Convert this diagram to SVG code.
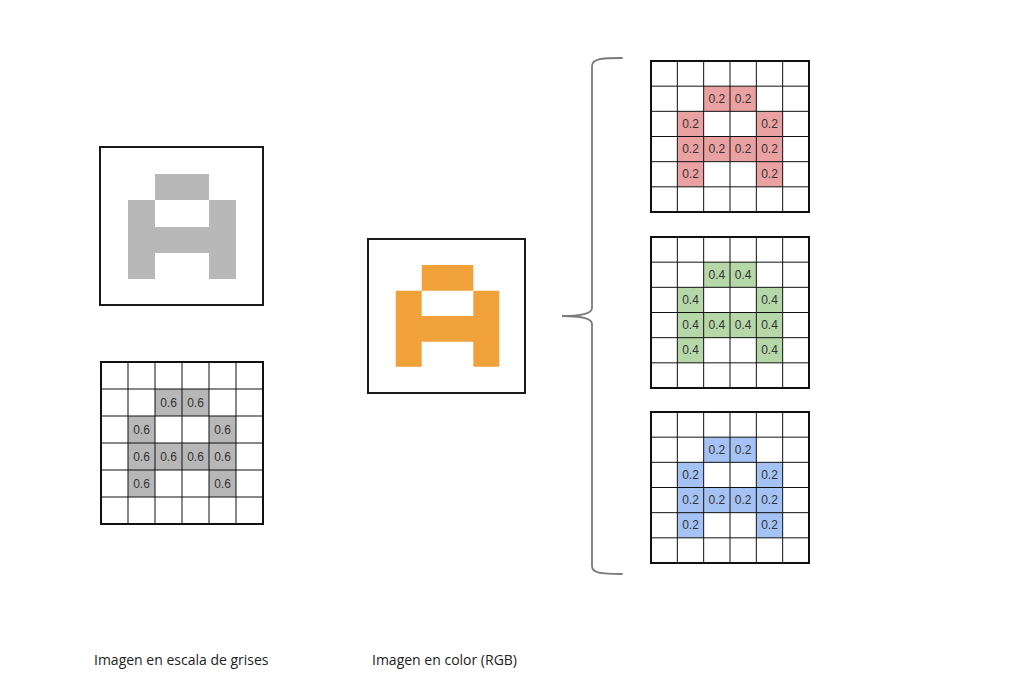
<svg xmlns="http://www.w3.org/2000/svg" xmlns:xlink="http://www.w3.org/1999/xlink" width="1024" height="682" viewBox="0 0 1024 682">
  <style>
    .frame { fill: #ffffff; stroke: #1a1a1a; stroke-width: 2; }
    .gl { stroke: #111; stroke-width: 1; fill: none; }
    .gb { stroke: #111; stroke-width: 2; fill: none; }
    .num { font-family: "Liberation Sans", Arial, sans-serif; font-size: 12px; fill: #333; text-anchor: middle; }
    .lbl { font-family: "Open Sans", "Liberation Sans", sans-serif; font-size: 14px; fill: #222; }
    .brace { fill: none; stroke: #7a7a7a; stroke-width: 1.8; stroke-linecap: round; }
  </style>
  <defs>
    <g id="cgrid-lines">
      <path class="gl" d="M26.33,0V151M52.67,0V151M79,0V151M105.33,0V151M131.67,0V151M0,25.17H158M0,50.33H158M0,75.5H158M0,100.67H158M0,125.83H158"/>
      <rect class="gb" x="0" y="0" width="158" height="151"/>
    </g>
    <g id="cgrid-fill">
      <rect x="52.67" y="25.17" width="52.67" height="25.17"/>
      <rect x="26.33" y="50.33" width="26.33" height="75.5"/>
      <rect x="105.33" y="50.33" width="26.33" height="75.5"/>
      <rect x="52.67" y="75.5" width="52.67" height="25.17"/>
    </g>
  </defs>
  <rect width="1024" height="682" fill="#ffffff"/>

  <g id="gray-image">
    <rect class="frame" x="100" y="147" width="163" height="158"/>
    <path fill="#b8b8b8" d="M155,174H209V200H236V279H209V253H155V279H128V200H155Z M155,200V227H209V200Z" fill-rule="evenodd"/>
  </g>

  <g id="gray-grid" transform="translate(101,362)">
    <g fill="#b7b7b7">
      <rect x="54" y="27" width="54" height="27"/>
      <rect x="27" y="54" width="27" height="81"/>
      <rect x="108" y="54" width="27" height="81"/>
      <rect x="54" y="81" width="54" height="27"/>
    </g>
    <path class="gl" d="M27,0V162M54,0V162M81,0V162M108,0V162M135,0V162M0,27H162M0,54H162M0,81H162M0,108H162M0,135H162"/>
    <rect class="gb" x="0" y="0" width="162" height="162"/>
    <text class="num" x="67.5" y="45">0.6</text>
    <text class="num" x="94.5" y="45">0.6</text>
    <text class="num" x="40.5" y="72">0.6</text>
    <text class="num" x="121.5" y="72">0.6</text>
    <text class="num" x="40.5" y="99">0.6</text>
    <text class="num" x="67.5" y="99">0.6</text>
    <text class="num" x="94.5" y="99">0.6</text>
    <text class="num" x="121.5" y="99">0.6</text>
    <text class="num" x="40.5" y="126">0.6</text>
    <text class="num" x="121.5" y="126">0.6</text>
  </g>

  <g id="color-image">
    <rect class="frame" x="368" y="239" width="157" height="154"/>
    <path fill="#f1a13a" fill-rule="evenodd" d="M421.7,265H473.3V290.7H499.3V366.7H473.3V341.7H421.7V366.7H395.7V290.7H421.7Z M421.7,290.7V316H473.3V290.7Z"/>
  </g>

  <g id="connectors">
    <path class="brace" d="M622,58 C600,58 592,59 592,66 L592,308 C592,313 584,316 562,316 C584,316 592,319 592,324 L592,566 C592,573 600,574 622,574"/>
  </g>

  <g id="red-grid" transform="translate(651,61)">
    <use xlink:href="#cgrid-fill" fill="#eaa1a1"/>
    <use xlink:href="#cgrid-lines"/>
    <text class="num" x="65.83" y="41.6">0.2</text>
    <text class="num" x="92.17" y="41.6">0.2</text>
    <text class="num" x="39.5" y="66.8">0.2</text>
    <text class="num" x="118.5" y="66.8">0.2</text>
    <text class="num" x="39.5" y="92">0.2</text>
    <text class="num" x="65.83" y="92">0.2</text>
    <text class="num" x="92.17" y="92">0.2</text>
    <text class="num" x="118.5" y="92">0.2</text>
    <text class="num" x="39.5" y="117.2">0.2</text>
    <text class="num" x="118.5" y="117.2">0.2</text>
  </g>

  <g id="green-grid" transform="translate(651,237)">
    <use xlink:href="#cgrid-fill" fill="#b6d7a8"/>
    <use xlink:href="#cgrid-lines"/>
    <text class="num" x="65.83" y="41.6">0.4</text>
    <text class="num" x="92.17" y="41.6">0.4</text>
    <text class="num" x="39.5" y="66.8">0.4</text>
    <text class="num" x="118.5" y="66.8">0.4</text>
    <text class="num" x="39.5" y="92">0.4</text>
    <text class="num" x="65.83" y="92">0.4</text>
    <text class="num" x="92.17" y="92">0.4</text>
    <text class="num" x="118.5" y="92">0.4</text>
    <text class="num" x="39.5" y="117.2">0.4</text>
    <text class="num" x="118.5" y="117.2">0.4</text>
  </g>

  <g id="blue-grid" transform="translate(651,412)">
    <use xlink:href="#cgrid-fill" fill="#a4c2f4"/>
    <use xlink:href="#cgrid-lines"/>
    <text class="num" x="65.83" y="41.6">0.2</text>
    <text class="num" x="92.17" y="41.6">0.2</text>
    <text class="num" x="39.5" y="66.8">0.2</text>
    <text class="num" x="118.5" y="66.8">0.2</text>
    <text class="num" x="39.5" y="92">0.2</text>
    <text class="num" x="65.83" y="92">0.2</text>
    <text class="num" x="92.17" y="92">0.2</text>
    <text class="num" x="118.5" y="92">0.2</text>
    <text class="num" x="39.5" y="117.2">0.2</text>
    <text class="num" x="118.5" y="117.2">0.2</text>
  </g>

  <g id="label-gray">
    <text class="lbl" x="94" y="665">Imagen en escala de grises</text>
  </g>
  <g id="label-color">
    <text class="lbl" x="372" y="665">Imagen en color (RGB)</text>
  </g>
</svg>
